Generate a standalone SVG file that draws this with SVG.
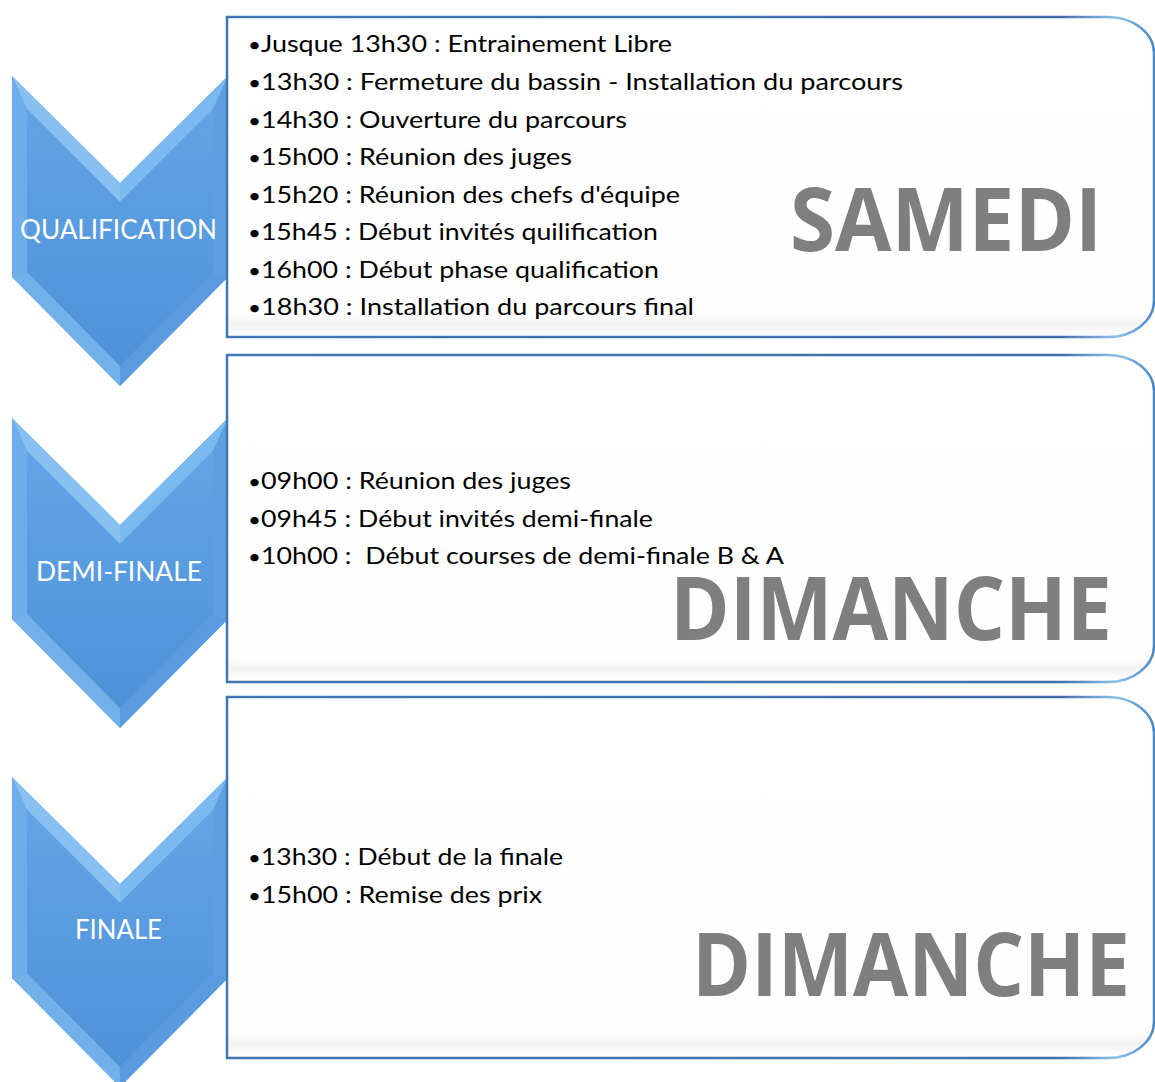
<svg xmlns="http://www.w3.org/2000/svg" xmlns:xlink="http://www.w3.org/1999/xlink" width="1155" height="1082" viewBox="0 0 1155 1082">
<style>
.item{font-family:Lato,"Open Sans","Liberation Sans",sans-serif;font-size:24px;fill:#000;}
.b{font-size:20px;}
.lab{font-family:Lato,"Open Sans","Liberation Sans",sans-serif;font-size:27px;fill:#fff;text-anchor:middle;}
.day{font-family:"Open Sans","Liberation Sans",sans-serif;font-size:88px;font-weight:bold;fill:#7f7f7f;}
.box{fill:url(#boxfill);stroke:url(#boxstroke);stroke-width:2.5;}
.pre{white-space:pre;}
</style>
<defs>
<linearGradient id="face" x1="0" y1="0" x2="0" y2="1">
<stop offset="0" stop-color="#62a4e5"/>
<stop offset="1" stop-color="#4e91d8"/>
</linearGradient>
<linearGradient id="boxfill" x1="0" y1="0" x2="0" y2="1">
<stop offset="0" stop-color="#ffffff"/>
<stop offset="0.93" stop-color="#fefefe"/>
<stop offset="0.96" stop-color="#f3f3f3"/>
<stop offset="1" stop-color="#ffffff"/>
</linearGradient>
<linearGradient id="boxstroke" x1="0" y1="0" x2="1" y2="0">
<stop offset="0" stop-color="#4176b6"/>
<stop offset="0.9" stop-color="#3f6fa9"/>
<stop offset="0.96" stop-color="#8cc2ec"/>
<stop offset="1" stop-color="#4a86c8"/>
</linearGradient>
<g id="chev">
<polygon points="0,0 108,107 216,0 216,201 108,310 0,201" fill="#64a6e6"/>
<polygon points="0,0 108,107 108,126 15,33" fill="#88c1f1"/>
<polygon points="108,107 216,0 201,33 108,126" fill="#7bb9ef"/>
<polygon points="0,0 15,33 15,196 0,201" fill="#6eade9"/>
<polygon points="216,0 216,201 201,196 201,33" fill="#5d9fe0"/>
<polygon points="0,201 15,196 108,290 108,310" fill="#72b0ea"/>
<polygon points="216,201 108,310 108,290 201,196" fill="#5a9be0"/>
<polygon points="15,33 108,126 201,33 201,196 108,290 15,196" fill="url(#face)"/>
</g>
</defs>
<rect width="1155" height="1082" fill="#ffffff"/>

<g id="connectors"/>

<g id="qualification">
<use xlink:href="#chev" href="#chev" x="12" y="76"/>
<text class="lab" x="118.5" y="239" textLength="197" lengthAdjust="spacingAndGlyphs">QUALIFICATION</text>
</g>
<g id="demi-finale">
<use xlink:href="#chev" href="#chev" x="12" y="418"/>
<text class="lab" x="119" y="581" textLength="166" lengthAdjust="spacingAndGlyphs">DEMI-FINALE</text>
</g>
<g id="finale">
<use xlink:href="#chev" href="#chev" x="12" y="777"/>
<text class="lab" x="118.5" y="939" textLength="87" lengthAdjust="spacingAndGlyphs">FINALE</text>
</g>

<g id="samedi">
<path class="box" d="M227,17 H1108 A46,36 0 0 1 1154,53 V301 A46,36 0 0 1 1108,337 H227 Z"/>
<text class="item" x="248" y="52" textLength="424" lengthAdjust="spacingAndGlyphs"><tspan class="b">•</tspan>Jusque 13h30 : Entrainement Libre</text>
<text class="item" x="248" y="90" textLength="655" lengthAdjust="spacingAndGlyphs"><tspan class="b">•</tspan>13h30 : Fermeture du bassin - Installation du parcours</text>
<text class="item" x="248" y="127.5" textLength="379" lengthAdjust="spacingAndGlyphs"><tspan class="b">•</tspan>14h30 : Ouverture du parcours</text>
<text class="item" x="248" y="165" textLength="324" lengthAdjust="spacingAndGlyphs"><tspan class="b">•</tspan>15h00 : Réunion des juges</text>
<text class="item" x="248" y="202.5" textLength="432" lengthAdjust="spacingAndGlyphs"><tspan class="b">•</tspan>15h20 : Réunion des chefs d'équipe</text>
<text class="item" x="248" y="240" textLength="410" lengthAdjust="spacingAndGlyphs"><tspan class="b">•</tspan>15h45 : Début invités quilification</text>
<text class="item" x="248" y="277.5" textLength="411" lengthAdjust="spacingAndGlyphs"><tspan class="b">•</tspan>16h00 : Début phase qualification</text>
<text class="item" x="248" y="315" textLength="446" lengthAdjust="spacingAndGlyphs"><tspan class="b">•</tspan>18h30 : Installation du parcours final</text>
<text class="day" x="790" y="251" textLength="312" lengthAdjust="spacingAndGlyphs">SAMEDI</text>
</g>

<g id="dimanche-demi">
<path class="box" d="M227,355 H1108 A46,36 0 0 1 1154,391 V646 A46,36 0 0 1 1108,682 H227 Z"/>
<text class="item" x="248" y="489" textLength="323" lengthAdjust="spacingAndGlyphs"><tspan class="b">•</tspan>09h00 : Réunion des juges</text>
<text class="item" x="248" y="527" textLength="405" lengthAdjust="spacingAndGlyphs"><tspan class="b">•</tspan>09h45 : Début invités demi-finale</text>
<text class="item pre" x="248" y="564" textLength="536" lengthAdjust="spacingAndGlyphs" xml:space="preserve"><tspan class="b">•</tspan>10h00 :  Début courses de demi-finale B &amp; A</text>
<text class="day" x="670" y="640" textLength="442" lengthAdjust="spacingAndGlyphs">DIMANCHE</text>
</g>

<g id="dimanche-finale">
<path class="box" d="M227,697 H1108 A46,36 0 0 1 1154,733 V1022 A46,36 0 0 1 1108,1058 H227 Z"/>
<text class="item" x="248" y="865" textLength="315" lengthAdjust="spacingAndGlyphs"><tspan class="b">•</tspan>13h30 : Début de la finale</text>
<text class="item" x="248" y="903" textLength="294" lengthAdjust="spacingAndGlyphs"><tspan class="b">•</tspan>15h00 : Remise des prix</text>
<text class="day" x="692" y="996" textLength="438" lengthAdjust="spacingAndGlyphs">DIMANCHE</text>
</g>
</svg>
